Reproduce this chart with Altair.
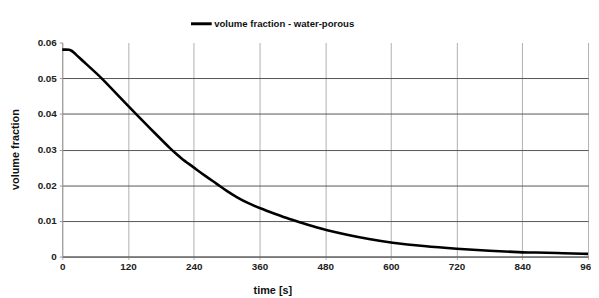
import altair as alt
import pandas as pd

time_s = [0, 8, 12, 16, 20, 30, 45, 60, 72, 100, 134, 160, 175, 197, 211, 219, 230,
          240, 260, 283, 300, 319, 340, 360, 390, 415, 440, 463, 480, 520, 560, 600,
          660, 720, 780, 840, 855, 858, 900, 960]
vol_frac = [0.0580, 0.0580, 0.0580, 0.0578, 0.0574, 0.0559, 0.0538, 0.0517, 0.0500,
            0.0455, 0.0400, 0.0360, 0.0337, 0.0303, 0.0284, 0.0273, 0.0261, 0.0250,
            0.0227, 0.0203, 0.0184, 0.0166, 0.0149, 0.0136, 0.0119, 0.0105, 0.0093,
            0.0082, 0.0075, 0.0061, 0.0049, 0.0039, 0.0029, 0.0022, 0.0016, 0.0012,
            0.0011, 0.0012, 0.0010, 0.00075]
series = ["volume fraction - water-porous"] * len(time_s)
x_ticks = [0, 120, 240, 360, 480, 600, 720, 840, 960]
y_ticks = [0, 0.01, 0.02, 0.03, 0.04, 0.05, 0.06]

df = pd.DataFrame({"t": time_s, "v": vol_frac, "s": series})

FONT = "Liberation Sans"

chart = alt.Chart(df).mark_line(strokeWidth=2.6, interpolate="basis").encode(
    x=alt.X("t:Q", scale=alt.Scale(domain=[0, 960], nice=False),
            axis=alt.Axis(values=x_ticks, title="time [s]", format="d",
                          grid=True, gridColor="#b0b0b0", gridWidth=1,
                          domainColor="#555555", domainWidth=1,
                          tickColor="#b0b0b0", tickSize=3,
                          labelFont=FONT, labelFontSize=10, labelFontWeight="bold",
                          labelColor="#222222", labelPadding=2, labelFlush=False,
                          titleFont=FONT, titleFontSize=11, titleFontWeight="bold",
                          titleColor="#111111", titleX=213, titleY=37,
                          titleBaseline="alphabetic", titleAnchor="middle",
                          titleAlign="center")),
    y=alt.Y("v:Q", scale=alt.Scale(domain=[0, 0.06], nice=False),
            axis=alt.Axis(values=y_ticks, title="volume fraction",
                          labelExpr="datum.value == 0 ? '0' : format(datum.value, '.2f')",
                          grid=True, gridColor="#555555", gridWidth=1,
                          gridOpacity={"condition": {"test": "datum.value >= 0.06", "value": 0}, "value": 1},
                          domainColor="#999999", domainWidth=1,
                          tickColor="#999999", tickSize=3,
                          labelFont=FONT, labelFontSize=10, labelFontWeight="bold",
                          labelColor="#222222", labelPadding=3,
                          titleFont=FONT, titleFontSize=11, titleFontWeight="bold",
                          titleColor="#111111", titleX=-42, titleY=108,
                          titleAngle=-90, titleAlign="center")),
    color=alt.Color("s:N", scale=alt.Scale(range=["#000000"]),
                    legend=alt.Legend(orient="none", legendX=129, legendY=-31,
                                      title=None, symbolType="stroke",
                                      symbolSize=441, symbolStrokeWidth=3,
                                      labelFont=FONT, labelFontSize=9.7,
                                      labelFontWeight="bold", labelColor="#111111",
                                      labelOffset=1)),
).properties(
    width=533, height=217,
    autosize=alt.AutoSizeParams(type="none"),
    padding={"left": 55, "top": 33, "right": 3, "bottom": 40},
).configure_view(stroke=None)

chart.save("out.html", embed_options={"renderer": "svg", "actions": False})
